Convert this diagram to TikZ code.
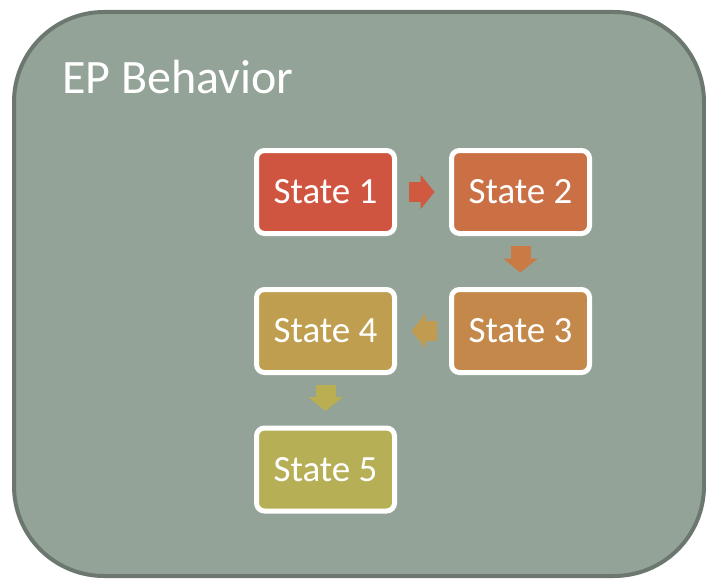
\documentclass[tikz,border=0pt]{standalone}
\usepackage{fontspec}
\setmainfont{Carlito}
\usetikzlibrary{arrows.meta}

\definecolor{panelfill}{HTML}{93A398}
\definecolor{paneledge}{HTML}{6C786F}
\definecolor{stA}{HTML}{D05540}
\definecolor{stB}{HTML}{CB7045}
\definecolor{stC}{HTML}{C4894A}
\definecolor{stD}{HTML}{BF9E4F}
\definecolor{stE}{HTML}{B6AF55}
\definecolor{arAB}{HTML}{D05A40}
\definecolor{arBC}{HTML}{C97A45}
\definecolor{arCD}{HTML}{C19B4F}
\definecolor{arDE}{HTML}{B9AE52}

\tikzset{
  statebox/.style={draw=white, line width=5pt, rounded corners=8pt,
    minimum width=138pt, minimum height=83pt, inner sep=0pt,
    text=white, font=\fontsize{37}{40}\selectfont},
  blockarrow/.style={line width=20pt, line cap=butt,
    -{Triangle[width=34pt,length=14pt]}}
}

\begin{document}
\begin{tikzpicture}[x=1pt,y=-1pt]
  \useasboundingbox (0,0) rectangle (706,578);

  % outer panel
  \draw[fill=panelfill, draw=paneledge, line width=4pt, rounded corners=90pt]
    (14,12) rectangle (704,576);
  \node[anchor=base west, text=white, inner sep=0pt,
        font=\fontsize{48}{52}\selectfont] (title) at (62,93) {EP Behavior};

  % states
  \node[statebox, fill=stA] (s1) at (325.5,192) {State 1};
  \node[statebox, fill=stB] (s2) at (520.5,192) {State 2};
  \node[statebox, fill=stC] (s3) at (520.5,331) {State 3};
  \node[statebox, fill=stD] (s4) at (325.5,331) {State 4};
  \node[statebox, fill=stE] (s5) at (325.5,469.5) {State 5};

  % transitions
  \draw[blockarrow, color=arAB, shorten <=12pt, shorten >=14.5pt] (s1.east) -- (s2.west);
  \draw[blockarrow, color=arBC, shorten <=10pt, shorten >=14.5pt] (s2.south) -- (s3.north);
  \draw[blockarrow, color=arCD, shorten <=12pt, shorten >=14.5pt] (s3.west) -- (s4.east);
  \draw[blockarrow, color=arDE, shorten <=10pt, shorten >=14.5pt] (s4.south) -- (s5.north);
\end{tikzpicture}
\end{document}
